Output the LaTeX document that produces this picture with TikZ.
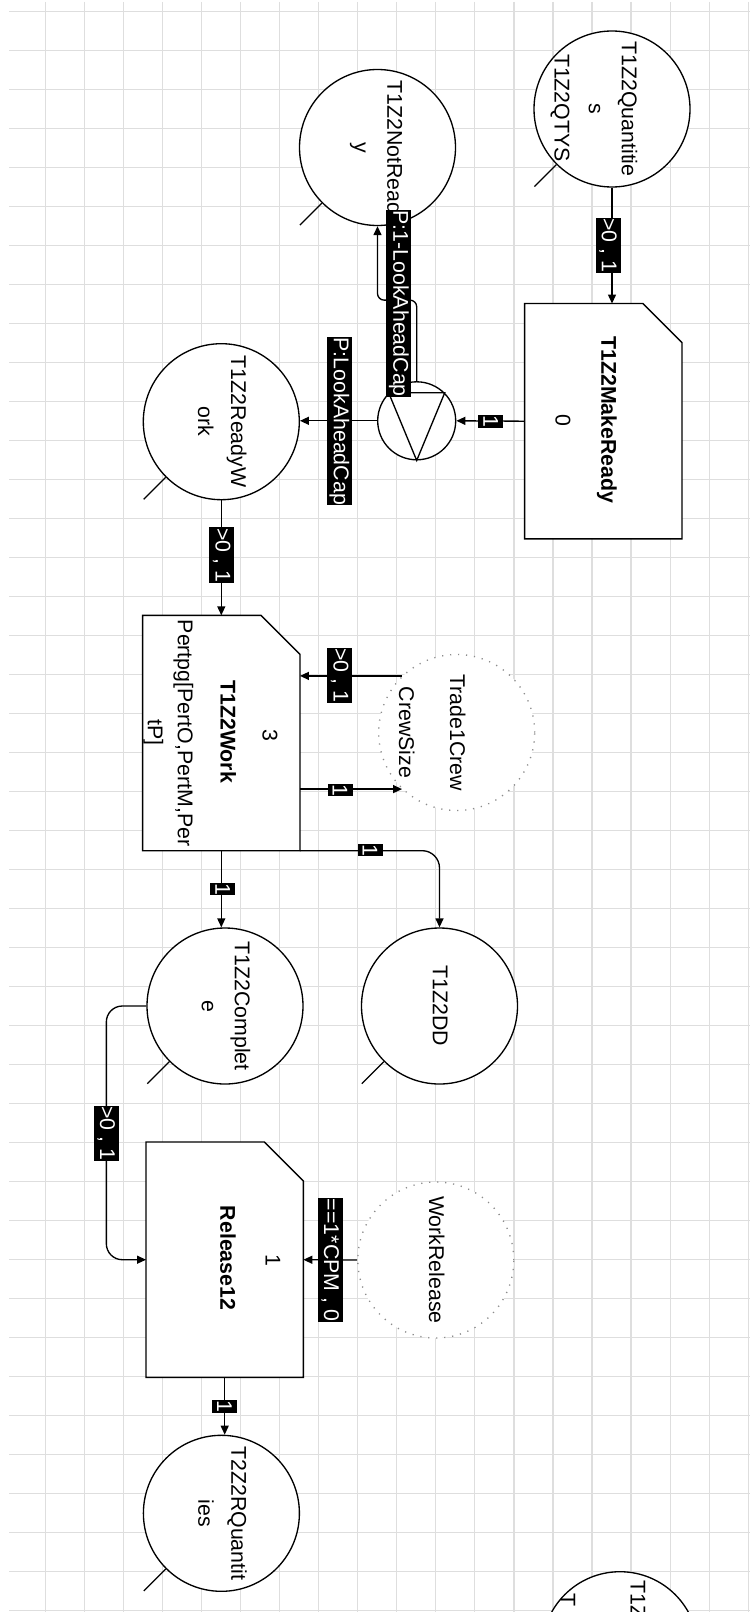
\documentclass[tikz,border=0pt]{standalone}
\usepackage{fontspec}
\setmainfont{Liberation Sans}
\usetikzlibrary{arrows.meta,calc}
\tikzset{every picture/.style={line width=1pt}}

% transition box with the clipped corner, drawn round an empty node
\newcommand{\chambox}[1]{%
  \draw[fill=white] (#1.south west) -- (#1.north west) -- ($(#1.north east)+(-39,0)$)
    -- ($(#1.north east)+(0,39)$) -- (#1.south east) -- cycle;}
% text that runs downwards
\newcommand{\down}[1]{\rotatebox{-90}{\begin{tabular}{@{}c@{}}#1\end{tabular}}}
\newcommand{\netfont}{\fontsize{16}{24.75}\selectfont}

\begin{document}
\begin{tikzpicture}[x=0.75pt,y=0.75pt,yscale=-1,xscale=1,
  font=\netfont,
  gridline/.style={draw=black!13,line width=0.9pt},
  place/.style={circle,draw,fill=white,minimum size=117pt,inner sep=0pt},
  dotplace/.style={place,draw=black!45,dash pattern=on 0.9pt off 5.1pt},
  trans/.style={draw=none,minimum width=117pt,minimum height=175.5pt,inner sep=0pt},
  txt/.style={rotate=-90,inner sep=0pt},
  bold/.style={txt,font=\netfont\bfseries},
  lbl/.style={rotate=-90,fill=black,text=white,inner xsep=0.4pt,inner ysep=0pt,minimum height=18.75pt},
  arc/.style={-{Triangle[length=6.75pt,width=6pt]}}]
	\useasboundingbox (0,0) rectangle (750,1612);
	\fill[white] (0,0) rectangle (750,1612);

	%Grid
	\foreach \i in {0,...,18} \draw[gridline] ({45.3+39.05*\i},2) -- ({45.3+39.05*\i},1612);
	\foreach \j in {0,...,41} \draw[gridline] (9,{11.7+39*\j}) -- (750,{11.7+39*\j});

	%Places
	\node[place] (qty) at (612,109) {\down{T1Z2Quantitie\\s}};
	\node[place] (notready) at (377.5,147.5) {\down{T1Z2NotRead\\y}};
	\node[place] (readywork) at (221.3,421.7) {\down{T1Z2ReadyW\\ork}};
	\node[place] (complete) at (225,1006) {\down{T1Z2Complet\\e}};
	\node[place] (dd) at (439.5,1006) {\down{T1Z2DD}};
	\node[place] (rqty) at (221.4,1513.3) {\down{T2Z2RQuantit\\ies}};
	\node[place] (qtyb) at (620,1649.7) {};
	\node[dotplace] (crew) at (456.7,732.5) {\down{Trade1Crew}};
	\node[dotplace] (wrel) at (435.8,1260) {\down{WorkRelease}};
	% place tails
	\foreach \p in {qty,notready,readywork,complete,dd,rqty,qtyb}
		\draw (\p.225) -- ++(-22,22);
	% Text Node
	\node[txt] (qtyname) at (560,108) {T1Z2QTYS};
	\node[txt] (crewname) at (406.7,732.5) {CrewSize};
	\node[txt,anchor=west] (qtybtop) at (638,1580) {T1Z};
	\node[txt,anchor=west] (qtybname) at (568,1593) {T};

	%Transitions
	\node[trans] (mkready) at (603.3,421.2) {};
	\chambox{mkready}
	\node[bold] (mkreadyname) at (607,420) {T1Z2MakeReady};
	\node[txt] (mkreadyprio) at (563,420) {0};

	\node[trans] (work) at (221.3,733) {};
	\chambox{work}
	\node[txt] (workprio) at (270,735) {3};
	\node[bold] (workname) at (228.3,731.7) {T1Z2Work};
	\node[txt] (workfun) at (183.3,733) {Pertpg[PertO,PertM,Per};
	\node[txt] (workfunb) at (153.3,732.5) {tP]};

	\node[trans] (release) at (224.7,1259.7) {};
	\chambox{release}
	\node[txt] (releaseprio) at (273,1260) {1};
	\node[bold] (releasename) at (228,1258) {Release12};

	%Switch
	\node[place,minimum size=58.5pt] (jn) at (416.7,420.8) {};
	\draw (jn.135) -- (jn.270) -- (jn.45) -- cycle;

	%Arcs
	\draw[arc] (qty.south) -- (qty.south |- mkready.north);
	\draw[arc] (mkready.west) -- (jn.east);
	\draw[arc] (jn.west) -- (jn.west -| readywork.east);
	\draw[arc,rounded corners=5pt] (jn.north) -- ++(0,-81) -| (notready.south);
	\draw[arc] (readywork.south) -- (work.north);
	\draw[arc] (crew.134) -- (work.east |- crew.134);
	\draw[arc] (work.east |- crew.226) -- (crew.226);
	\draw[arc,rounded corners=13pt] (work.south east) -| (dd.north);
	\draw[arc] (work.south) -- (work.south |- complete.north);
	\draw[arc,rounded corners=12pt] (complete.west) -- ++(-40,0) |- (release.west);
	\draw[arc] (wrel.west) -- (release.east);
	\draw[arc] (release.south) -- (release.south |- rqty.north);

	%Arc labels
	\node[lbl] (w1) at (608,245.5) {>0 , 1};
	\node[lbl] (w2) at (490.8,421.3) {1};
	\node[lbl] (w3) at (339.3,421.3) {P:LookAheadCap};
	\node[lbl] (w4) at (398.8,303.7) {P:1-LookAheadCap};
	\node[lbl] (w5) at (221.7,555) {>0 , 1};
	\node[lbl] (w6) at (339.7,675.5) {>0 , 1};
	\node[lbl] (w7) at (340,790) {1};
	\node[lbl] (w8) at (370,850) {1};
	\node[lbl] (w9) at (222.8,889) {1};
	\node[lbl] (w10) at (106.3,1133.3) {>0 , 1};
	\node[lbl] (w11) at (330.3,1260) {==1*CPM , 0};
	\node[lbl] (w12) at (224.5,1406.7) {1};
\end{tikzpicture}
\end{document}
